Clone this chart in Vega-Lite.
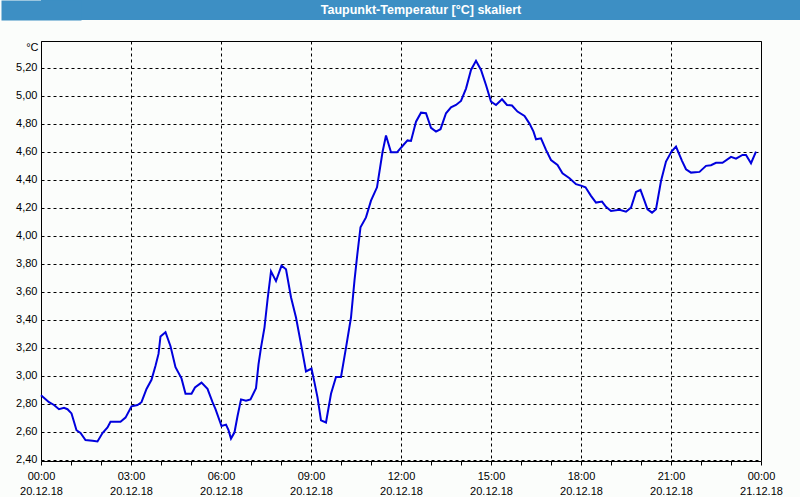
{
  "$schema": "https://vega.github.io/schema/vega-lite/v6.json",
  "padding": 0,
  "background": "#fbfdfb",
  "spacing": 20,
  "bounds": "full",
  "vconcat": [
    {
      "width": 760,
      "height": 20,
      "view": {"fill": "#3d8fc4", "stroke": null},
      "data": {"values": [{"title": "Taupunkt-Temperatur [°C] skaliert"}]},
      "mark": {"type": "text", "color": "#ffffff", "font": "Liberation Sans", "fontWeight": "bold", "fontSize": 12.5, "baseline": "middle", "align": "center"},
      "encoding": {
        "text": {"field": "title", "type": "nominal"},
        "y": {
          "field": "title",
          "type": "nominal",
          "axis": {
            "title": null,
            "labels": false,
            "ticks": false,
            "grid": false,
            "domain": true,
            "domainColor": "#3d8fc4",
            "domainWidth": 80,
            "domainCap": "butt",
            "minExtent": 0,
            "maxExtent": 40
          }
        }
      }
    },
    {
      "width": 720,
      "height": 420,
      "view": {"stroke": "#000000", "strokeWidth": 1},
      "data": {"values": [
        {"h": 0, "v": 2.86}, {"h": 0.267, "v": 2.81}, {"h": 0.433, "v": 2.79}, {"h": 0.6, "v": 2.76},
        {"h": 0.767, "v": 2.77}, {"h": 0.883, "v": 2.76}, {"h": 1.017, "v": 2.73}, {"h": 1.1, "v": 2.67},
        {"h": 1.183, "v": 2.61}, {"h": 1.317, "v": 2.59}, {"h": 1.483, "v": 2.54}, {"h": 1.717, "v": 2.535},
        {"h": 1.883, "v": 2.53}, {"h": 2.05, "v": 2.59}, {"h": 2.217, "v": 2.63}, {"h": 2.317, "v": 2.67},
        {"h": 2.65, "v": 2.67}, {"h": 2.817, "v": 2.70}, {"h": 3.017, "v": 2.78}, {"h": 3.217, "v": 2.79},
        {"h": 3.35, "v": 2.81}, {"h": 3.517, "v": 2.905}, {"h": 3.683, "v": 2.97}, {"h": 3.817, "v": 3.07},
        {"h": 3.917, "v": 3.155}, {"h": 3.983, "v": 3.28}, {"h": 4.15, "v": 3.31}, {"h": 4.317, "v": 3.21},
        {"h": 4.483, "v": 3.06}, {"h": 4.683, "v": 2.98}, {"h": 4.817, "v": 2.87}, {"h": 5.017, "v": 2.87},
        {"h": 5.133, "v": 2.915}, {"h": 5.35, "v": 2.95}, {"h": 5.55, "v": 2.905}, {"h": 5.717, "v": 2.81},
        {"h": 5.817, "v": 2.76}, {"h": 6.017, "v": 2.64}, {"h": 6.167, "v": 2.65}, {"h": 6.25, "v": 2.61},
        {"h": 6.333, "v": 2.55}, {"h": 6.45, "v": 2.595}, {"h": 6.55, "v": 2.71}, {"h": 6.667, "v": 2.83},
        {"h": 6.833, "v": 2.82}, {"h": 6.983, "v": 2.83}, {"h": 7.167, "v": 2.91}, {"h": 7.25, "v": 3.08},
        {"h": 7.333, "v": 3.20}, {"h": 7.45, "v": 3.345}, {"h": 7.55, "v": 3.54}, {"h": 7.667, "v": 3.745},
        {"h": 7.833, "v": 3.675}, {"h": 8.017, "v": 3.785}, {"h": 8.167, "v": 3.76}, {"h": 8.333, "v": 3.56},
        {"h": 8.5, "v": 3.415}, {"h": 8.667, "v": 3.225}, {"h": 8.833, "v": 3.03}, {"h": 9.017, "v": 3.05},
        {"h": 9.117, "v": 2.95}, {"h": 9.217, "v": 2.845}, {"h": 9.333, "v": 2.68}, {"h": 9.5, "v": 2.665},
        {"h": 9.667, "v": 2.87}, {"h": 9.833, "v": 2.99}, {"h": 10, "v": 2.99}, {"h": 10.167, "v": 3.20},
        {"h": 10.333, "v": 3.415}, {"h": 10.45, "v": 3.68}, {"h": 10.533, "v": 3.845}, {"h": 10.65, "v": 4.06},
        {"h": 10.833, "v": 4.13}, {"h": 11, "v": 4.25}, {"h": 11.2, "v": 4.345}, {"h": 11.383, "v": 4.595},
        {"h": 11.5, "v": 4.715}, {"h": 11.667, "v": 4.595}, {"h": 11.867, "v": 4.595}, {"h": 12.05, "v": 4.64},
        {"h": 12.217, "v": 4.68}, {"h": 12.333, "v": 4.676}, {"h": 12.5, "v": 4.814}, {"h": 12.667, "v": 4.878},
        {"h": 12.833, "v": 4.874}, {"h": 13, "v": 4.77}, {"h": 13.167, "v": 4.743}, {"h": 13.317, "v": 4.76},
        {"h": 13.5, "v": 4.874}, {"h": 13.667, "v": 4.916}, {"h": 13.833, "v": 4.933}, {"h": 14, "v": 4.962},
        {"h": 14.167, "v": 5.05}, {"h": 14.333, "v": 5.183}, {"h": 14.5, "v": 5.248}, {"h": 14.667, "v": 5.183},
        {"h": 14.833, "v": 5.076}, {"h": 15, "v": 4.957}, {"h": 15.167, "v": 4.933}, {"h": 15.367, "v": 4.974},
        {"h": 15.533, "v": 4.933}, {"h": 15.7, "v": 4.929}, {"h": 15.883, "v": 4.886}, {"h": 16.117, "v": 4.855},
        {"h": 16.283, "v": 4.80}, {"h": 16.417, "v": 4.743}, {"h": 16.5, "v": 4.688}, {"h": 16.667, "v": 4.695},
        {"h": 16.833, "v": 4.612}, {"h": 17, "v": 4.54}, {"h": 17.217, "v": 4.505}, {"h": 17.383, "v": 4.445},
        {"h": 17.617, "v": 4.41}, {"h": 17.833, "v": 4.367}, {"h": 18, "v": 4.357}, {"h": 18.15, "v": 4.345},
        {"h": 18.333, "v": 4.284}, {"h": 18.5, "v": 4.236}, {"h": 18.7, "v": 4.243}, {"h": 18.833, "v": 4.205},
        {"h": 19, "v": 4.176}, {"h": 19.283, "v": 4.184}, {"h": 19.5, "v": 4.171}, {"h": 19.667, "v": 4.20},
        {"h": 19.833, "v": 4.312}, {"h": 19.983, "v": 4.326}, {"h": 20.117, "v": 4.248}, {"h": 20.217, "v": 4.188},
        {"h": 20.367, "v": 4.164}, {"h": 20.5, "v": 4.188}, {"h": 20.667, "v": 4.39}, {"h": 20.833, "v": 4.529},
        {"h": 21.017, "v": 4.60}, {"h": 21.167, "v": 4.636}, {"h": 21.367, "v": 4.534}, {"h": 21.5, "v": 4.474},
        {"h": 21.667, "v": 4.45}, {"h": 21.95, "v": 4.455}, {"h": 22.167, "v": 4.498}, {"h": 22.333, "v": 4.503},
        {"h": 22.5, "v": 4.52}, {"h": 22.717, "v": 4.52}, {"h": 23, "v": 4.562}, {"h": 23.167, "v": 4.55},
        {"h": 23.383, "v": 4.576}, {"h": 23.5, "v": 4.576}, {"h": 23.667, "v": 4.517}, {"h": 23.833, "v": 4.60}
      ]},
      "mark": {"type": "line", "color": "#0000dd", "strokeWidth": 2},
      "encoding": {
        "x": {
          "field": "h",
          "type": "quantitative",
          "scale": {"domain": [0, 24], "nice": false, "zero": false},
          "axis": {
            "title": null,
            "values": [0, 1, 2, 3, 4, 5, 6, 7, 8, 9, 10, 11, 12, 13, 14, 15, 16, 17, 18, 19, 20, 21, 22, 23, 24],
            "domain": false,
            "tickSize": 4,
            "tickColor": "#000000",
            "labelExpr": "datum.value % 3 === 0 ? [(datum.value % 24 < 10 ? '0' : '') + (datum.value % 24) + ':00', datum.value === 24 ? '21.12.18' : '20.12.18'] : ''",
            "labelOverlap": false,
            "labelFlush": false,
            "labelBound": false,
            "labelFont": "Liberation Sans",
            "labelFontSize": 11,
            "labelColor": "#000000",
            "labelPadding": 5,
            "labelBaseline": "top",
            "labelLineHeight": 15,
            "grid": true,
            "gridColor": "#000000",
            "gridDash": [3, 3],
            "gridOpacity": {"condition": {"test": "datum.value % 3 === 0", "value": 1}, "value": 0}
          }
        },
        "y": {
          "field": "v",
          "type": "quantitative",
          "scale": {"domain": [2.39, 5.39], "nice": false, "zero": false},
          "axis": {
            "title": "°C",
            "titleAngle": 0,
            "titleAnchor": "end",
            "titleAlign": "right",
            "titleBaseline": "top",
            "titlePadding": -37,
            "titleFont": "Liberation Sans",
            "titleFontSize": 11,
            "titleFontWeight": "normal",
            "titleColor": "#000000",
            "values": [2.4, 2.6, 2.8, 3.0, 3.2, 3.4, 3.6, 3.8, 4.0, 4.2, 4.4, 4.6, 4.8, 5.0, 5.2],
            "labelExpr": "replace(format(datum.value, '.2f'), '.', ',')",
            "domain": false,
            "ticks": false,
            "labelPadding": 4,
            "labelFont": "Liberation Sans",
            "labelFontSize": 11,
            "labelColor": "#000000",
            "minExtent": 40,
            "maxExtent": 40,
            "grid": true,
            "gridColor": "#000000",
            "gridDash": [3, 3]
          }
        }
      }
    }
  ]
}
